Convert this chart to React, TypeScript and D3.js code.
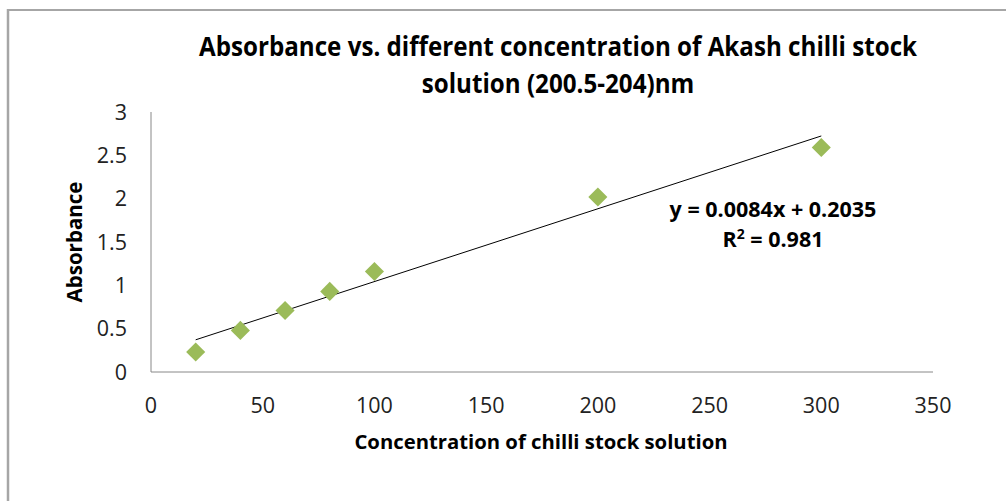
import React from "react";
import * as d3 from "d3";

const concentrations = [20, 40, 60, 80, 100, 200, 300];
const absorbance = [0.23, 0.48, 0.71, 0.93, 1.16, 2.02, 2.59];
const xTicks = [0, 50, 100, 150, 200, 250, 300, 350];
const yTicks = [0, 0.5, 1, 1.5, 2, 2.5, 3];
const slope = 0.0084;
const intercept = 0.2035;
const rSquared = 0.981;
const titleLines = [
  "Absorbance vs. different concentration of Akash chilli stock",
  "solution (200.5-204)nm",
];
const xTitle = "Concentration of chilli stock solution";
const yTitle = "Absorbance";

const W = 1006;
const H = 501;
const FONT = "'Open Sans', 'Liberation Sans', sans-serif";

export default function App() {
  const x = d3.scaleLinear().domain([0, 350]).range([151, 933]);
  const y = d3.scaleLinear().domain([0, 3]).range([372, 112]);
  const xMin = d3.min(concentrations) as number;
  const xMax = d3.max(concentrations) as number;
  const trend = d3
    .line<number>()
    .x((d) => x(d))
    .y((d) => y(slope * d + intercept))([xMin, xMax]);
  const s = 13.5;

  return (
    <div style={{ position: "absolute", left: 0, top: 0 }}>
      <svg width={W} height={H} style={{ display: "block", background: "#fff" }}>
        <line x1={7} x2={W} y1={10} y2={10} stroke="#a6a6a6" strokeWidth={2} />
        <line x1={8} x2={8} y1={9} y2={H} stroke="#a6a6a6" strokeWidth={2.5} />
        <g fontFamily={FONT} fontWeight="bold" fontSize={26} fill="#000" textAnchor="middle">
          {titleLines.map((t, i) => (
            <text key={i} transform={`translate(558,${56 + i * 37}) scale(0.93,1)`}>{t}</text>
          ))}
        </g>
        <line x1={x(0)} x2={x(0)} y1={y(3)} y2={y(0)} stroke="#888" strokeWidth={1} />
        <line x1={x(0)} x2={x(350)} y1={y(0)} y2={y(0)} stroke="#888" strokeWidth={1} />
        <g fontFamily={FONT} fontSize={21.5} fill="#222">
          {yTicks.map((t) => (
            <text key={t} x={127} y={y(t) + 7.5} textAnchor="end">{String(t)}</text>
          ))}
          {xTicks.map((t) => (
            <text key={t} x={x(t)} y={413} textAnchor="middle">{String(t)}</text>
          ))}
        </g>
        <text x={541} y={449} fontFamily={FONT} fontWeight="bold" fontSize={20.3} textAnchor="middle">{xTitle}</text>
        <text transform="translate(82,242) rotate(-90)" fontFamily={FONT} fontWeight="bold" fontSize={20.5} textAnchor="middle">{yTitle}</text>
        <path d={trend ?? ""} stroke="#000" strokeWidth={1} fill="none" />
        {concentrations.map((c, i) => (
          <rect
            key={c}
            x={-s / 2}
            y={-s / 2}
            width={s}
            height={s}
            fill="#9bbb59"
            transform={`translate(${x(c)},${y(absorbance[i])}) rotate(45)`}
          />
        ))}
        <g fontFamily={FONT} fontWeight="bold" fontSize={21.5} textAnchor="middle" fill="#000">
          <text x={773} y={217}>{`y = ${slope}x + ${intercept}`}</text>
          <text x={773} y={247}>R<tspan fontSize={14} dy={-8}>2</tspan><tspan dy={8}>{` = ${rSquared}`}</tspan></text>
        </g>
      </svg>
    </div>
  );
}
